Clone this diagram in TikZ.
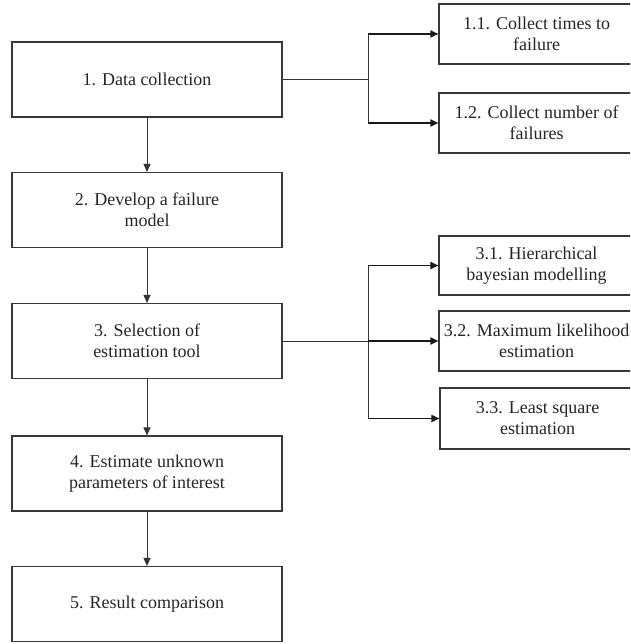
\documentclass[tikz,border=0pt]{standalone}
\usepackage{fontspec}
\setmainfont{Liberation Serif}
\usetikzlibrary{arrows.meta}
\begin{document}
\begin{tikzpicture}[x=1pt,y=-1pt,
  box/.style={draw=black!78,line width=1.1pt,fill=white,inner sep=0pt,align=center,
    font=\fontsize{18}{21}\selectfont,text=black!85},
  lbox/.style={box,minimum width=270pt,minimum height=75pt},
  rbox/.style={box,minimum width=195pt,minimum height=60pt},
  link/.style={draw=black!80,line width=1pt},
  down/.style={link,-{Triangle[length=8pt,width=7pt]}},
  side/.style={draw=black!90,line width=1.7pt,-{Triangle[length=8pt,width=7pt]}}]
\useasboundingbox (0,0) rectangle (630,644);
\clip (0,0) rectangle (630,644);
\fill[white] (0,0) rectangle (630,644);
% left column
\node[lbox] (b1) at (147,79.5) {1. Data collection};
\node[lbox] (b2) at (147,210) {2. Develop a failure\\model};
\node[lbox] (b3) at (147,341) {3. Selection of\\estimation tool};
\node[lbox] (b4) at (147,473.5) {4. Estimate unknown\\parameters of interest};
\node[lbox] (b5) at (147,604) {5. Result comparison};
% right column
\node[rbox] (r11) at (536.5,34) {1.1. Collect times to\\failure};
\node[rbox] (r12) at (536.5,123) {1.2. Collect number of\\failures};
\node[rbox,minimum height=59pt] (r31) at (536.5,265.5) {3.1. Hierarchical\\bayesian modelling};
\node[rbox] (r32) at (536.5,341) {3.2. Maximum likelihood\\estimation};
\node[rbox,minimum height=61pt] (r33) at (537.5,418.5) {3.3. Least square\\estimation};
% junctions
\coordinate (j1) at (368,79.5);
\coordinate (j1a) at (368,34);
\coordinate (j1b) at (368,123);
\coordinate (j3) at (368,341);
\coordinate (j3a) at (368,265.5);
\coordinate (j3b) at (368,418.5);
% vertical flow
\draw[down] (b1) -- (b2);
\draw[down] (b2) -- (b3);
\draw[down] (b3) -- (b4);
\draw[down] (b4) -- (b5);
% branches from 1
\draw[link] (b1.east) -- (j1);
\draw[link] (j1a) -- (j1b);
\draw[side] (j1a) -- (r11.west);
\draw[side] (j1b) -- (r12.west);
% branches from 3
\draw[link] (b3.east) -- (j3);
\draw[link] (j3a) -- (j3b);
\draw[side] (j3a) -- (r31.west);
\draw[side] (j3) -- (r32.west);
\draw[side] (j3b) -- (r33.west);
\end{tikzpicture}
\end{document}
